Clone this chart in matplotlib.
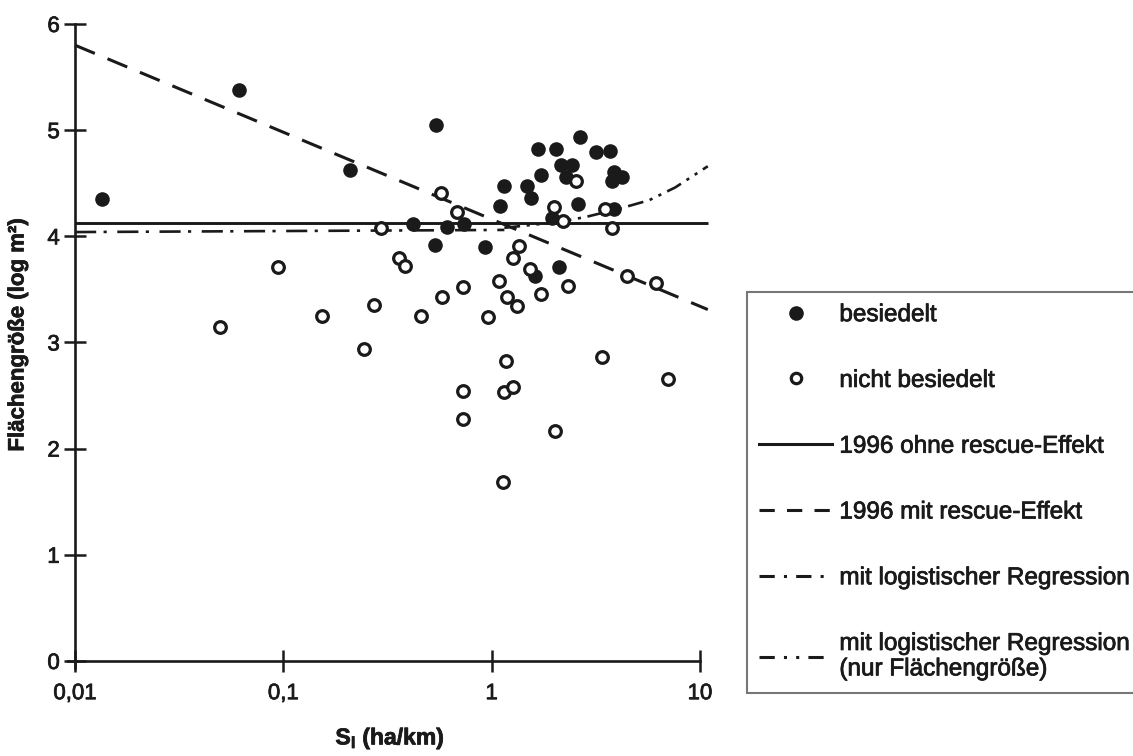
import matplotlib
matplotlib.use("Agg")
import matplotlib.pyplot as plt
import matplotlib.patheffects as pe
from matplotlib.lines import Line2D
from matplotlib.ticker import NullLocator

plt.rcParams['font.family'] = ['Liberation Sans', 'DejaVu Sans']
plt.rcParams['mathtext.fontset'] = 'custom'
plt.rcParams['mathtext.rm'] = 'Liberation Sans'
plt.rcParams['mathtext.bf'] = 'Liberation Sans:bold'
plt.rcParams['mathtext.it'] = 'Liberation Sans:italic'

INK = "#1a1a1a"
# scanned print looks a bit heavier than plain Arial
THICK = [pe.withStroke(linewidth=0.55, foreground=INK)]

# besiedelt (occupied patches)
filled_x = [0.0134, 0.061, 0.208, 0.54, 0.42, 0.61, 0.74, 0.535, 0.93, 1.14,
            1.10, 1.47, 1.55, 1.66, 1.73, 2.04, 2.15, 2.43, 2.28, 2.66,
            3.16, 3.69, 3.85, 3.77, 4.2, 2.6, 1.95, 3.85, 2.11, 1.62]
filled_y = [4.35, 5.38, 4.62, 5.05, 4.12, 4.09, 4.12, 3.92, 3.90, 4.47,
            4.29, 4.47, 4.36, 4.82, 4.58, 4.82, 4.67, 4.67, 4.56, 4.94,
            4.79, 4.80, 4.61, 4.52, 4.56, 4.30, 4.17, 4.26, 3.71, 3.63]

# nicht besiedelt (empty patches)
open_x = [0.0496, 0.0946, 0.153, 0.243, 0.271, 0.293, 0.36, 0.385, 0.459, 0.578,
          0.728, 0.571, 0.68, 0.957, 1.08, 1.18, 1.33, 1.26, 1.35, 1.52,
          1.73, 2.33, 2.54, 2.0, 2.2, 3.49, 3.77, 4.45, 6.17, 1.17,
          0.728, 0.728, 1.14, 1.27, 3.38, 7.05, 2.02, 1.13]
open_y = [3.15, 3.71, 3.25, 2.94, 3.35, 4.08, 3.80, 3.72, 3.25, 3.43,
          3.52, 4.41, 4.23, 3.24, 3.58, 3.43, 3.34, 3.80, 3.91, 3.69,
          3.46, 3.53, 4.52, 4.28, 4.14, 4.26, 4.08, 3.63, 3.56, 2.83,
          2.54, 2.28, 2.53, 2.58, 2.86, 2.66, 2.17, 1.69]

# threshold lines
ohne_x = [0.01, 10.9]
ohne_y = [4.13, 4.13]
mit_x = [0.01, 10.9]
mit_y = [5.80, 3.31]
logreg_x = [0.01, 1.15]
logreg_y = [4.04, 4.06]
flaeche_x = [1.15, 2.0, 2.8, 4.1, 5.7, 7.6, 10.9]
flaeche_y = [4.08, 4.13, 4.18, 4.26, 4.34, 4.46, 4.66]

xticks = [0.01, 0.1, 1, 10]
xticklabels = ["0,01", "0,1", "1", "10"]
yticks = [0, 1, 2, 3, 4, 5, 6]

labels = ["besiedelt", "nicht besiedelt", "1996 ohne rescue-Effekt",
          "1996 mit rescue-Effekt", "mit logistischer Regression",
          "mit logistischer Regression\n(nur Flächengröße)"]

fig = plt.figure(figsize=(11.33, 7.56), dpi=100)
ax = fig.add_axes([0.0596, 0.1159, 0.5694, 0.8594])
ax.set_xscale('log')
ax.set_xlim(0.0092, 11.5)
ax.set_ylim(-0.07, 6.05)

ls_dash = (0, (7, 4.5))
ls_dashdot = (0, (8, 2.8, 1.2, 4))
ls_dashdotdot = (0, (6, 2.5, 1.2, 2.5, 1.2, 2.5))

ax.plot(ohne_x, ohne_y, color=INK, lw=2.1, solid_capstyle='butt', clip_on=False, zorder=2)
ax.plot(mit_x, mit_y, color=INK, lw=2.2, linestyle=ls_dash, clip_on=False, zorder=2)
ax.plot(logreg_x, logreg_y, color=INK, lw=1.9, linestyle=ls_dashdot, clip_on=False, zorder=2)
ax.plot(flaeche_x, flaeche_y, color=INK, lw=1.9, linestyle=ls_dashdotdot, clip_on=False, zorder=2)

ax.plot(filled_x, filled_y, 'o', color=INK, ms=10.5, mec=INK, mew=0, zorder=3, clip_on=False)
ax.plot(open_x, open_y, 'o', mfc='white', mec=INK, ms=8.4, mew=2.3, zorder=4, clip_on=False)

for side in ['top', 'right']:
    ax.spines[side].set_visible(False)
ax.spines['left'].set_position(('data', 0.01))
ax.spines['left'].set_bounds(-0.07, 6.0)
ax.spines['bottom'].set_position(('data', 0))
ax.spines['bottom'].set_bounds(0.0092, 10)
for side in ['left', 'bottom']:
    ax.spines[side].set_linewidth(1.9)
    ax.spines[side].set_color(INK)

ax.set_xticks(xticks)
ax.set_xticklabels(xticklabels)
ax.xaxis.set_minor_locator(NullLocator())
ax.set_yticks(yticks)
ax.set_yticklabels([str(v) for v in yticks])
ax.tick_params(direction='inout', length=16, width=1.8, color=INK,
               labelsize=16, labelcolor=INK)
ax.tick_params(axis='x', pad=8)
ax.tick_params(axis='y', pad=3)
for t in ax.get_xticklabels() + ax.get_yticklabels():
    t.set_path_effects(THICK)

ylab = fig.text(18 / 1133, 1 - 335 / 756, "Flächengröße (log m²)", rotation=90,
                ha='center', va='center', fontsize=16, fontweight='bold', color=INK)
xlab = fig.text(390 / 1133, 1 - 738 / 756, r"$\mathbf{S}_\mathbf{l}$ (ha/km)",
                ha='center', va='center', fontsize=16.5, fontweight='bold', color=INK)
ylab.set_path_effects(THICK)
xlab.set_path_effects(THICK)

handles = [
    Line2D([], [], ls='none', marker='o', color=INK, ms=10.5, mew=0),
    Line2D([], [], ls='none', marker='o', mfc='white', mec=INK, ms=7.5, mew=2.3),
    Line2D([], [], color=INK, lw=2.2),
    Line2D([], [], color=INK, lw=2.2, linestyle=(0, (5, 4))),
    Line2D([], [], color=INK, lw=2.2, linestyle=(0, (5, 3, 1, 3))),
    Line2D([], [], color=INK, lw=2.2, linestyle=(0, (5, 3, 1, 3, 1, 3))),
]
leg = fig.legend(handles, labels, loc='upper left', mode='expand',
                 bbox_to_anchor=(747 / 1133, 1 - 292 / 756, 420 / 1133, 0),
                 borderaxespad=0, fontsize=17.5, frameon=True, fancybox=False,
                 edgecolor='#555555', handlelength=3.0, handletextpad=0.3,
                 labelspacing=1.8, borderpad=0.5)
leg.get_frame().set_linewidth(1.5)
for t in leg.get_texts():
    t.set_color(INK)
    t.set_path_effects(THICK)

fig.savefig("out.png", dpi=100, facecolor='white')
